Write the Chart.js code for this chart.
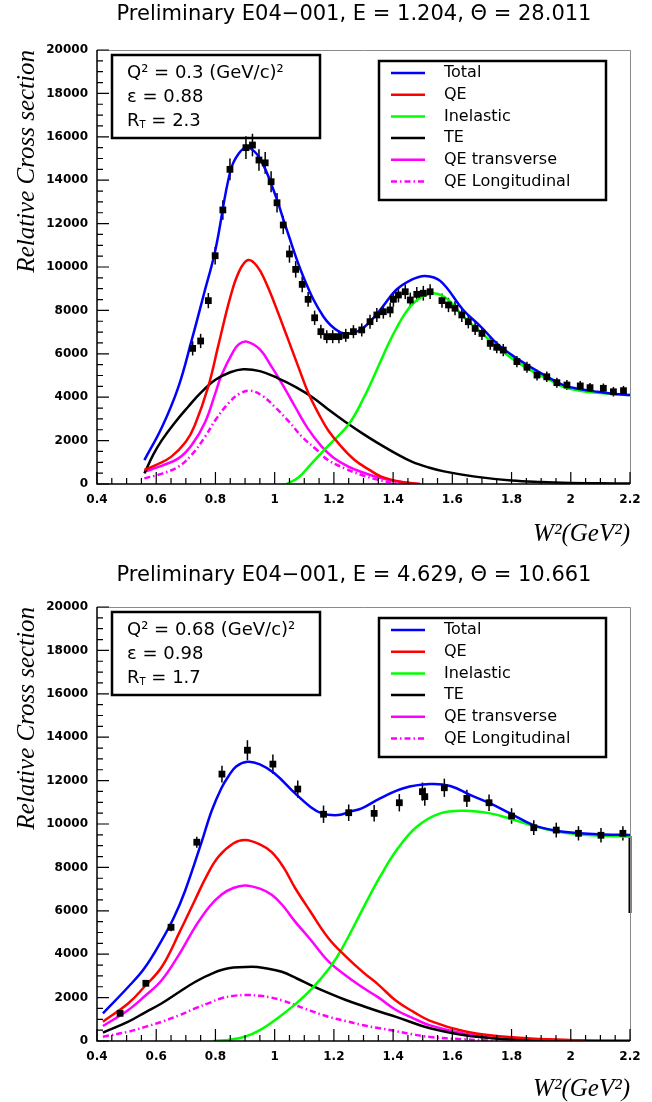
<!DOCTYPE html>
<html>
<head>
<meta charset="utf-8">
<script src="https://cdn.jsdelivr.net/npm/chart.js@4.4.1/dist/chart.umd.min.js"></script>
<style>
  html, body { margin: 0; padding: 0; background: #fff; }
  body { width: 652px; height: 1102px; position: relative; overflow: hidden; }
  canvas { position: absolute; left: 0; }
  #topChart { top: 0; }
  #botChart { top: 551px; }
</style>
</head>
<body>
<canvas id="topChart" width="652" height="551"></canvas>
<canvas id="botChart" width="652" height="551"></canvas>
<script>
/* -------- Axis ticks (shared) -------- */
const xTickValues = [0.4, 0.6, 0.8, 1.0, 1.2, 1.4, 1.6, 1.8, 2.0, 2.2];
const yTickValues = [0, 2000, 4000, 6000, 8000, 10000, 12000, 14000, 16000, 18000, 20000];
const xMinorStep = 0.05;
const yMinorStep = 500;

/* -------- Top panel: E = 1.204 -------- */
const topDataX = [0.723, 0.75, 0.776, 0.799, 0.825, 0.849, 0.903, 0.925, 0.947, 0.968,
    0.988, 1.008, 1.029, 1.05, 1.071, 1.093, 1.113, 1.135, 1.156, 1.176,
    1.196, 1.217, 1.24, 1.266, 1.294, 1.322, 1.345, 1.367, 1.39, 1.401,
    1.418, 1.441, 1.458, 1.48, 1.502, 1.525, 1.565, 1.587, 1.609, 1.632,
    1.654, 1.677, 1.7, 1.728, 1.75, 1.772, 1.818, 1.852, 1.886, 1.919,
    1.953, 1.987, 2.032, 2.065, 2.11, 2.144, 2.178];
const topDataY = [6250, 6590, 8450, 10520, 12630, 14500, 15500, 15620, 14930, 14800,
    13930, 12960, 11935, 10600, 9890, 9200, 8510, 7660, 7020, 6790,
    6790, 6790, 6850, 7020, 7100, 7480, 7790, 7940, 8020, 8510,
    8710, 8860, 8480, 8740, 8790, 8860, 8450, 8250, 8100, 7790,
    7480, 7170, 6940, 6480, 6300, 6170, 5640, 5380, 5020, 4940,
    4670, 4560, 4520, 4440, 4410, 4250, 4300];
const topDataErr = [330, 330, 350, 400, 450, 500, 520, 520, 500, 500,
    480, 450, 420, 400, 380, 360, 340, 330, 320, 300,
    300, 300, 300, 300, 300, 320, 320, 320, 330, 340,
    340, 340, 340, 340, 340, 340, 330, 330, 320, 320,
    310, 300, 300, 290, 280, 280, 260, 250, 250, 240,
    230, 230, 230, 220, 220, 220, 220];

const topTotalX = [0.56, 0.62, 0.675, 0.72, 0.76, 0.8, 0.85, 0.88, 0.91, 0.95,
    1.0, 1.04, 1.1, 1.165, 1.22, 1.26, 1.3, 1.356, 1.41, 1.46,
    1.508, 1.56, 1.637, 1.7, 1.75, 1.8, 1.863, 1.92, 1.975, 2.03,
    2.09, 2.15, 2.2];
const topTotalY = [1100, 2640, 4480, 6640, 8700, 10800, 14400, 15250, 15500, 15000,
    13400, 11750, 9450, 7710, 7000, 6950, 7200, 8020, 8940, 9400,
    9590, 9350, 8020, 7200, 6480, 5950, 5400, 4950, 4560, 4380,
    4250, 4150, 4100];

const topQEX = [0.56, 0.6, 0.65, 0.7, 0.73, 0.776, 0.81, 0.85, 0.88, 0.91,
    0.94, 0.97, 1.0, 1.046, 1.08, 1.114, 1.15, 1.18, 1.22, 1.27,
    1.32, 1.36, 1.42, 1.49];
const topQEY = [650, 880, 1250, 1950, 2700, 4500, 6400, 8600, 9800, 10320,
    10050, 9300, 8300, 6640, 5400, 4180, 3200, 2490, 1800, 1106,
    650, 340, 120, 0];

const topInelX = [1.04, 1.08, 1.125, 1.18, 1.25, 1.3, 1.356, 1.384, 1.412, 1.44,
    1.468, 1.5, 1.536, 1.57, 1.6, 1.637, 1.7, 1.75, 1.8, 1.863,
    1.92, 1.975, 2.03, 2.09, 2.15, 2.2];
const topInelY = [0, 300, 950, 1750, 2750, 3950, 5600, 6450, 7200, 7850,
    8330, 8650, 8790, 8650, 8300, 7710, 6950, 6330, 5800, 5250,
    4850, 4480, 4300, 4200, 4140, 4100];

const topTEX = [0.56, 0.59, 0.618, 0.66, 0.708, 0.75, 0.8, 0.85, 0.894, 0.95,
    1.012, 1.07, 1.125, 1.18, 1.238, 1.3, 1.35, 1.41, 1.463, 1.52,
    1.576, 1.677, 1.8, 1.9, 2.0, 2.1, 2.2];
const topTEY = [490, 1350, 2000, 2780, 3560, 4200, 4800, 5150, 5290, 5200,
    4870, 4480, 4020, 3450, 2870, 2300, 1875, 1400, 1030, 760,
    570, 340, 160, 90, 50, 30, 20];

const topQETX = [0.56, 0.62, 0.675, 0.72, 0.765, 0.8, 0.82, 0.86, 0.88, 0.906,
    0.95, 0.99, 1.03, 1.069, 1.11, 1.159, 1.2, 1.249, 1.3, 1.362,
    1.42, 1.49];
const topQETY = [570, 850, 1180, 1800, 2850, 4200, 5000, 6100, 6450, 6560,
    6200, 5400, 4500, 3560, 2600, 1720, 1200, 800, 520, 260,
    100, 0];

const topQELX = [0.56, 0.62, 0.675, 0.72, 0.765, 0.8, 0.844, 0.88, 0.917, 0.96,
    1.0, 1.05, 1.092, 1.14, 1.18, 1.24, 1.294, 1.35, 1.407, 1.45];
const topQELY = [260, 480, 800, 1350, 2180, 2950, 3720, 4150, 4300, 4050,
    3560, 2850, 2180, 1600, 1106, 700, 415, 190, 30, 0];

/* -------- Bottom panel: E = 4.629 -------- */
const botDataX = [0.478, 0.565, 0.65, 0.737, 0.822, 0.908, 0.994, 1.078, 1.165, 1.25,
    1.336, 1.421, 1.499, 1.507, 1.573, 1.649, 1.724, 1.8, 1.875, 1.951,
    2.026, 2.102, 2.176];
const botDataY = [1275, 2660, 5240, 9160, 12300, 13400, 12760, 11610, 10450, 10520,
    10490, 10980, 11490, 11260, 11670, 11180, 10980, 10370, 9830, 9720,
    9570, 9480, 9570];
const botDataErr = [100, 120, 180, 250, 390, 460, 440, 400, 400, 380,
    380, 400, 420, 420, 420, 400, 380, 360, 340, 340,
    330, 330, 330];

const botTotalX = [0.42, 0.506, 0.56, 0.619, 0.66, 0.697, 0.754, 0.787, 0.82, 0.844,
    0.87, 0.908, 0.95, 1.0, 1.069, 1.12, 1.159, 1.215, 1.255, 1.294,
    1.356, 1.435, 1.525, 1.593, 1.66, 1.728, 1.795, 1.874, 1.953, 2.032,
    2.11, 2.2];
const botTotalY = [1275, 2500, 3350, 4650, 5700, 6900, 9200, 10600, 11650, 12200,
    12650, 12870, 12750, 12330, 11410, 10800, 10490, 10410, 10570, 10720,
    11180, 11650, 11840, 11750, 11340, 10950, 10490, 9950, 9690, 9570,
    9520, 9490];

const botQEX = [0.42, 0.506, 0.56, 0.619, 0.68, 0.731, 0.77, 0.81, 0.86, 0.9,
    0.95, 0.99, 1.03, 1.069, 1.12, 1.181, 1.24, 1.3, 1.35, 1.41,
    1.47, 1.525, 1.637, 1.75, 1.863, 1.975, 2.05];
const botQEY = [890, 1740, 2500, 3420, 5050, 6500, 7600, 8490, 9100, 9260,
    9060, 8700, 8000, 7050, 5980, 4750, 3900, 3150, 2600, 1850,
    1330, 930, 460, 230, 120, 60, 0];

const botInelX = [0.793, 0.85, 0.9, 0.95, 1.012, 1.07, 1.125, 1.187, 1.227, 1.3,
    1.356, 1.412, 1.48, 1.559, 1.643, 1.728, 1.801, 1.874, 1.953, 2.032,
    2.11, 2.2];
const botInelY = [0, 60, 200, 500, 1075, 1700, 2400, 3400, 4250, 6150,
    7570, 8800, 9870, 10490, 10610, 10490, 10220, 9910, 9650, 9520,
    9460, 9410];

const botTEX = [0.42, 0.506, 0.56, 0.619, 0.68, 0.731, 0.79, 0.844, 0.923, 0.97,
    1.024, 1.075, 1.125, 1.187, 1.238, 1.3, 1.35, 1.41, 1.525, 1.637,
    1.75, 1.863, 2.0, 2.2];
const botTEY = [385, 890, 1300, 1740, 2280, 2720, 3120, 3350, 3420, 3350,
    3190, 2880, 2550, 2180, 1900, 1600, 1370, 1110, 585, 276,
    120, 50, 20, 10];

const botQETX = [0.42, 0.506, 0.56, 0.619, 0.68, 0.731, 0.78, 0.821, 0.86, 0.9,
    0.95, 0.99, 1.03, 1.069, 1.12, 1.181, 1.24, 1.3, 1.35, 1.41,
    1.47, 1.525, 1.637, 1.75, 1.863, 2.0];
const botQETY = [690, 1430, 2050, 2810, 4050, 5250, 6200, 6750, 7050, 7170,
    7020, 6740, 6200, 5500, 4690, 3680, 3020, 2440, 2010, 1430,
    1030, 720, 350, 120, 50, 0];

const botQELX = [0.42, 0.506, 0.56, 0.619, 0.68, 0.731, 0.78, 0.821, 0.86, 0.906,
    0.95, 0.99, 1.03, 1.069, 1.12, 1.181, 1.24, 1.294, 1.35, 1.407,
    1.46, 1.525, 1.637, 1.75];
const botQELY = [200, 430, 640, 890, 1200, 1500, 1760, 1970, 2080, 2120,
    2080, 2000, 1850, 1660, 1400, 1120, 920, 740, 600, 460,
    320, 185, 80, 0];

// the fitted total drops down at the right frame edge
const botEdgeX = [2.2, 2.2];
const botEdgeY = [9450, 5900];

/* -------- Fonts & colours -------- */
const SANS = '"DejaVu Sans", sans-serif';
const SERIF = '"Liberation Serif", "DejaVu Serif", serif';
const LONG_DASH = [6, 3, 1.5, 3];

/* -------- Dataset helpers -------- */
function pts(xs, ys) {
    return xs.map((x, i) => ({ x: x, y: ys[i] }));
}

function curve(label, xs, ys, color, dash) {
    return {
        label: label,
        data: pts(xs, ys),
        showLine: true,
        borderColor: color,
        backgroundColor: color,
        borderWidth: 2.5,
        borderDash: dash || [],
        pointRadius: 0,
        tension: 0.4,
        inLegend: true
    };
}

function measured(xs, ys, errs) {
    return {
        label: 'Data',
        data: pts(xs, ys),
        errors: errs,
        showLine: false,
        pointStyle: 'rect',
        pointRadius: 4.8,
        backgroundColor: '#000',
        borderColor: '#000',
        borderWidth: 0
    };
}

/* -------- ROOT-style decorations -------- */
const rootDecor = {
    id: 'rootDecor',
    beforeDatasetsDraw(chart) {
        const { ctx, chartArea: a, scales: { x, y } } = chart;
        ctx.save();
        ctx.beginPath();
        ctx.rect(a.left, a.top, a.right - a.left, a.bottom - a.top);
        ctx.clip();
        ctx.strokeStyle = '#000';
        ctx.lineWidth = 1.5;
        chart.data.datasets.forEach(ds => {
            if (!ds.errors) return;
            ds.data.forEach((p, j) => {
                const px = x.getPixelForValue(p.x);
                ctx.beginPath();
                ctx.moveTo(px, y.getPixelForValue(p.y - ds.errors[j]));
                ctx.lineTo(px, y.getPixelForValue(p.y + ds.errors[j]));
                ctx.stroke();
            });
        });
        ctx.restore();
    },
    afterDraw(chart, args, opts) {
        const { ctx, chartArea: a, scales: { x, y } } = chart;
        ctx.save();

        // frame
        ctx.strokeStyle = '#8a8a8a';
        ctx.lineWidth = 1;
        ctx.beginPath();
        ctx.moveTo(a.left, a.top + 0.5);
        ctx.lineTo(a.right + 0.5, a.top + 0.5);
        ctx.lineTo(a.right + 0.5, a.bottom);
        ctx.stroke();
        ctx.strokeStyle = '#000';
        ctx.lineWidth = 1.5;
        ctx.beginPath();
        ctx.moveTo(a.left, a.top);
        ctx.lineTo(a.left, a.bottom);
        ctx.lineTo(a.right, a.bottom);
        ctx.stroke();

        // ticks, pointing into the frame
        ctx.lineWidth = 1.2;
        ctx.beginPath();
        const nx = Math.round((xTickValues[xTickValues.length - 1] - xTickValues[0]) / xMinorStep);
        for (let k = 0; k <= nx; k++) {
            const px = x.getPixelForValue(xTickValues[0] + k * xMinorStep);
            const len = k % 4 === 0 ? 12 : 6;
            ctx.moveTo(px, a.bottom);
            ctx.lineTo(px, a.bottom - len);
        }
        const ny = Math.round((yTickValues[yTickValues.length - 1] - yTickValues[0]) / yMinorStep);
        for (let k = 0; k <= ny; k++) {
            const py = y.getPixelForValue(yTickValues[0] + k * yMinorStep);
            const len = k % 4 === 0 ? 12 : 6;
            ctx.moveTo(a.left, py);
            ctx.lineTo(a.left + len, py);
        }
        ctx.stroke();

        // title
        ctx.fillStyle = '#000';
        ctx.font = '21px ' + SANS;
        ctx.textAlign = 'center';
        ctx.textBaseline = 'middle';
        ctx.fillText(opts.title, opts.titleX, a.top - opts.titleGap);

        // info box
        const bx = 112, by = a.top + 5, bw = 208, bh = 83;
        ctx.lineWidth = 2.5;
        ctx.strokeRect(bx, by, bw, bh);
        ctx.textAlign = 'left';
        ctx.font = '18px ' + SANS;
        ctx.fillText(opts.q2, bx + 15, by + 18);
        ctx.fillText(opts.eps, bx + 15, by + 42);
        ctx.fillText('R', bx + 15, by + 66);
        const rw = ctx.measureText('R').width;
        ctx.font = '10px ' + SANS;
        ctx.fillText('T', bx + 15 + rw, by + 70);
        const tw = ctx.measureText('T').width;
        ctx.font = '18px ' + SANS;
        ctx.fillText(' = ' + opts.rt, bx + 15 + rw + tw, by + 66);

        // legend box
        const lx = 379, ly = a.top + 11, lw = 227, lh = 139;
        ctx.lineWidth = 2.5;
        ctx.strokeRect(lx, ly, lw, lh);
        ctx.font = '16px ' + SANS;
        let row = 0;
        chart.data.datasets.forEach(ds => {
            if (!ds.inLegend) return;
            const ry = ly + 12 + row * 21.7;
            ctx.strokeStyle = ds.borderColor;
            ctx.lineWidth = 2.5;
            ctx.setLineDash(ds.borderDash);
            ctx.beginPath();
            ctx.moveTo(391, ry);
            ctx.lineTo(425, ry);
            ctx.stroke();
            ctx.setLineDash([]);
            ctx.fillStyle = '#000';
            ctx.fillText(ds.label, 444, ry);
            row++;
        });
        ctx.restore();
    }
};

/* -------- Panel builder -------- */
function buildPanel(canvasId, datasets, panel) {
    const ctx = document.getElementById(canvasId).getContext('2d');
    return new Chart(ctx, {
        type: 'scatter',
        data: { datasets: datasets },
        plugins: [rootDecor],
        options: {
            responsive: false,
            animation: false,
            events: [],
            layout: { padding: { top: panel.top, right: 22, left: 0, bottom: 0 } },
            plugins: {
                legend: { display: false },
                tooltip: { enabled: false },
                rootDecor: panel
            },
            scales: {
                x: {
                    type: 'linear',
                    min: xTickValues[0],
                    max: xTickValues[xTickValues.length - 1],
                    afterBuildTicks: s => { s.ticks = xTickValues.map(v => ({ value: v })); },
                    afterFit: s => { s.height = 551 - panel.bottom; },
                    grid: { display: false, drawTicks: false },
                    border: { display: false },
                    ticks: {
                        padding: 9,
                        color: '#000',
                        maxRotation: 0,
                        autoSkip: false,
                        font: { family: SANS, size: 12, weight: 'bold' },
                        callback: v => String(+v.toFixed(1))
                    },
                    title: {
                        display: true,
                        text: 'W²(GeV²)',
                        align: 'end',
                        color: '#000',
                        font: { family: SERIF, size: 25, style: 'italic', lineHeight: 1 },
                        padding: { top: 0, bottom: panel.xTitlePad }
                    }
                },
                y: {
                    min: yTickValues[0],
                    max: yTickValues[yTickValues.length - 1],
                    afterBuildTicks: s => { s.ticks = yTickValues.map(v => ({ value: v })); },
                    afterFit: s => { s.width = 97; },
                    grid: { display: false, drawTicks: false },
                    border: { display: false },
                    ticks: {
                        padding: 9,
                        color: '#000',
                        font: { family: SANS, size: 12, weight: 'bold' },
                        callback: v => String(v)
                    },
                    title: {
                        display: true,
                        text: 'Relative Cross section',
                        align: 'end',
                        color: '#000',
                        font: { family: SERIF, size: 25, style: 'italic', lineHeight: 1 },
                        padding: { top: 15, bottom: 0 }
                    }
                }
            }
        }
    });
}

buildPanel('topChart', [
    measured(topDataX, topDataY, topDataErr),
    curve('Total', topTotalX, topTotalY, '#0000ff'),
    curve('QE', topQEX, topQEY, '#ff0000'),
    curve('Inelastic', topInelX, topInelY, '#00ff00'),
    curve('TE', topTEX, topTEY, '#000000'),
    curve('QE transverse', topQETX, topQETY, '#ff00ff'),
    curve('QE Longitudinal', topQELX, topQELY, '#ff00ff', LONG_DASH)
], {
    top: 50, bottom: 484, xTitlePad: 4,
    title: 'Preliminary E04\u2212001, E = 1.204, \u0398 = 28.011',
    titleX: 354, titleGap: 35,
    q2: 'Q\u00b2 = 0.3 (GeV/c)\u00b2', eps: '\u03b5 = 0.88', rt: '2.3'
});

const botSets = [
    measured(botDataX, botDataY, botDataErr),
    curve('Total', botTotalX, botTotalY, '#0000ff'),
    curve('QE', botQEX, botQEY, '#ff0000'),
    curve('Inelastic', botInelX, botInelY, '#00ff00'),
    curve('TE', botTEX, botTEY, '#000000'),
    curve('QE transverse', botQETX, botQETY, '#ff00ff'),
    curve('QE Longitudinal', botQELX, botQELY, '#ff00ff', LONG_DASH)
];
botSets.push({
    label: 'edge',
    data: pts(botEdgeX, botEdgeY),
    showLine: true,
    borderColor: '#000',
    borderWidth: 3,
    pointRadius: 0,
    clip: 4
});

buildPanel('botChart', botSets, {
    top: 56, bottom: 490, xTitlePad: 0,
    title: 'Preliminary E04\u2212001, E = 4.629, \u0398 = 10.661',
    titleX: 354, titleGap: 31,
    q2: 'Q\u00b2 = 0.68 (GeV/c)\u00b2', eps: '\u03b5 = 0.98', rt: '1.7'
});
</script>
</body>
</html>
